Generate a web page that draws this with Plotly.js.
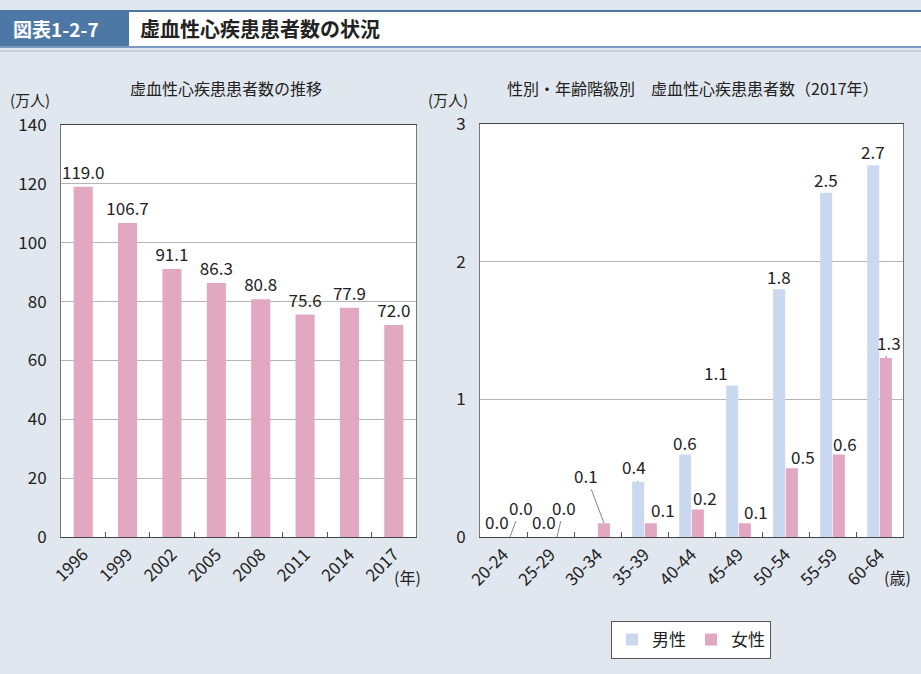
<!DOCTYPE html>
<html>
<head>
<meta charset="utf-8">
<script src="https://cdn.plot.ly/plotly-3.0.1.min.js"></script>
<style>
  html, body { margin: 0; padding: 0; background: #e1e7ee; }
  #chart { width: 921px; height: 674px; }
</style>
</head>
<body>
<div id="chart"></div>
<script>
// left chart: trend
const years = ["1996", "1999", "2002", "2005", "2008", "2011", "2014", "2017"];
const patients = [119.0, 106.7, 91.1, 86.3, 80.8, 75.6, 77.9, 72.0];

// right chart: by sex and age, 2017
const ageGroups = ["20-24", "25-29", "30-34", "35-39", "40-44", "45-49", "50-54", "55-59", "60-64"];
const male = [0.0, 0.0, null, 0.4, 0.6, 1.1, 1.8, 2.5, 2.7];
const female = [0.0, 0.0, 0.1, 0.1, 0.2, 0.1, 0.5, 0.6, 1.3];

const PINK = "#e2a8c1";
const BLUE = "#cad9ef";
const FONT = "Noto Sans CJK JP";

// label placement for right chart: [dx, dy, leader line]
const maleLabelPos = [[0, -16, false], [0, -16, false], null, [-4, -15, true], [0, -12, false],
                      [-16, -13, false], [0, -13, false], [0, -13, false], [0, -14, false]];
const femaleLabelPos = [[11, -30, true], [7, -30, true], [-18, -48, true], [12, -14, true], [7, -12, false],
                        [11, -12, true], [11, -12, true], [6, -11, false], [3, -16, true]];

const traceLeft = {
  x: years,
  y: patients,
  type: "bar",
  width: 0.43,
  xaxis: "x",
  yaxis: "y",
  marker: { color: PINK },
  text: patients.map(v => v.toFixed(1)),
  textposition: "outside",
  constraintext: "none",
  cliponaxis: false,
  textfont: { size: 17, color: "#222" },
  showlegend: false,
  hoverinfo: "x+y"
};

const traceMale = {
  x: ageGroups,
  y: male,
  type: "bar",
  name: "男性",
  xaxis: "x2",
  yaxis: "y2",
  marker: { color: BLUE }
};

const traceFemale = {
  x: ageGroups,
  y: female,
  type: "bar",
  name: "女性",
  xaxis: "x2",
  yaxis: "y2",
  marker: { color: PINK }
};

// annotations for the right chart values
const annos = [];
function addLabels(values, pos, shift) {
  values.forEach((v, i) => {
    if (v === null || !pos[i]) return;
    const p = pos[i];
    const a = {
      xref: "x2", yref: "y2",
      x: ageGroups[i], y: v,
      xshift: shift,
      text: v.toFixed(1),
      font: { size: 17, color: "#222", family: FONT }
    };
    if (p[2]) {
      a.showarrow = true;
      a.arrowhead = 0;
      a.arrowwidth = 0.8;
      a.arrowcolor = "#666";
      a.standoff = 0;
      a.ax = p[0];
      a.ay = p[1];
    } else {
      a.showarrow = false;
      a.xshift = shift + p[0];
      a.yshift = -p[1];
    }
    annos.push(a);
  });
}
addLabels(male, maleLabelPos, -6.5);
addLabels(female, femaleLabelPos, 6.5);

function paperText(text, x, y, size, extra) {
  return Object.assign({
    xref: "paper", yref: "paper",
    x: x / 921, y: 1 - y / 674,
    xanchor: "center", yanchor: "middle",
    text: text, showarrow: false,
    font: { size: size, color: "#222", family: FONT }
  }, extra || {});
}

annos.push(
  paperText("<b>図表1-2-7</b>", 56, 29, 19, { font: { size: 19, color: "#fff", family: FONT } }),
  paperText("<b>虚血性心疾患患者数の状況</b>", 138, 29, 20, { xanchor: "left" }),
  paperText("虚血性心疾患患者数の推移", 226, 88, 16),
  paperText("性別・年齢階級別　虚血性心疾患患者数（2017年）", 693, 88, 16),
  paperText("(万人)", 30, 99, 15),
  paperText("(万人)", 448, 99, 15),
  paperText("(年)", 407, 577, 16),
  paperText("(歳)", 897, 577, 16)
);

const shapes = [
  { type: "rect", xref: "paper", yref: "paper", x0: 0, x1: 1, y0: 1 - 12 / 674, y1: 1 - 10 / 674,
    fillcolor: "#4d78a6", line: { width: 0 } },
  { type: "rect", xref: "paper", yref: "paper", x0: 0, x1: 1, y0: 1 - 46 / 674, y1: 1 - 12 / 674,
    fillcolor: "#ffffff", line: { width: 0 } },
  { type: "rect", xref: "paper", yref: "paper", x0: 0, x1: 129 / 921, y0: 1 - 46 / 674, y1: 1 - 12 / 674,
    fillcolor: "#4d78a6", line: { width: 0 } },
  { type: "rect", xref: "paper", yref: "paper", x0: 0, x1: 1, y0: 1 - 48 / 674, y1: 1 - 46 / 674,
    fillcolor: "#7b9abf", line: { width: 0 } },
  { type: "rect", xref: "paper", yref: "paper", x0: 0, x1: 1, y0: 1 - 52 / 674, y1: 1 - 50 / 674,
    fillcolor: "#c9d0d9", line: { width: 0 } }
];

const xCommon = {
  type: "category",
  tickangle: -45,
  tickson: "boundaries",
  ticks: "inside",
  ticklen: 5,
  tickcolor: "#555",
  showline: true,
  linecolor: "#444",
  mirror: true,
  showgrid: false,
  tickfont: { size: 17, color: "#222" }
};

const yCommon = {
  showline: true,
  linecolor: "#777",
  mirror: true,
  gridcolor: "#b5b5b5",
  ticks: "",
  zeroline: false,
  tickfont: { size: 17, color: "#222" },
  ticklabelstandoff: 10
};

const layout = {
  width: 921,
  height: 674,
  margin: { l: 0, r: 0, t: 0, b: 0 },
  paper_bgcolor: "#e1e7ee",
  plot_bgcolor: "#ffffff",
  font: { family: FONT, color: "#222" },
  barmode: "group",
  bargap: 0.46,
  bargroupgap: 0.05,
  xaxis: Object.assign({}, xCommon, { domain: [61 / 921, 416 / 921], anchor: "y" }),
  yaxis: Object.assign({}, yCommon, { domain: [1 - 537 / 674, 1 - 125 / 674], range: [0, 140], dtick: 20, anchor: "x" }),
  xaxis2: Object.assign({}, xCommon, { domain: [480 / 921, 903 / 921], anchor: "y2" }),
  yaxis2: Object.assign({}, yCommon, { domain: [1 - 537 / 674, 1 - 124 / 674], range: [0, 3], dtick: 1, anchor: "x2" }),
  legend: {
    orientation: "h",
    x: 691 / 921, y: 1 - 621 / 674,
    xanchor: "center", yanchor: "top",
    bgcolor: "#ffffff",
    bordercolor: "#555",
    borderwidth: 1,
    font: { size: 17, color: "#222" }
  },
  annotations: annos,
  shapes: shapes
};

Plotly.newPlot("chart", [traceLeft, traceMale, traceFemale], layout, { displayModeBar: false });
</script>
</body>
</html>
